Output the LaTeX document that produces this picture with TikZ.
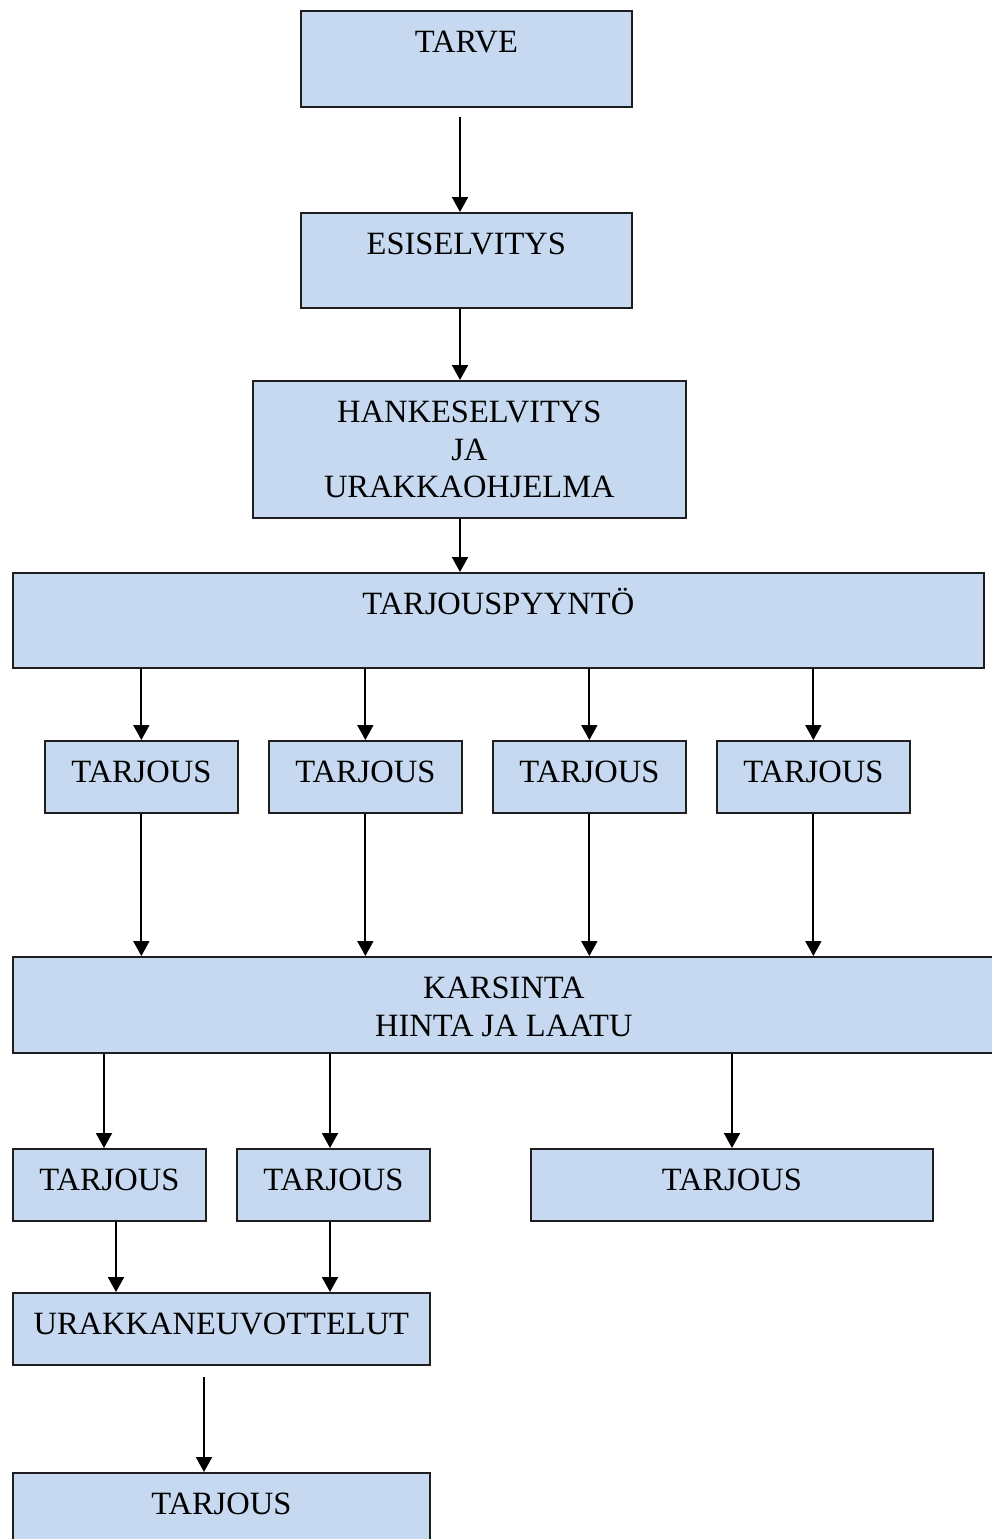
\documentclass[tikz,border=0pt]{standalone}
\usepackage{fontspec}
\setmainfont{Liberation Serif}
\usetikzlibrary{arrows.meta}
\definecolor{boxfill}{RGB}{198,217,240}
\definecolor{boxline}{RGB}{30,30,30}
\begin{document}
\begin{tikzpicture}[x=1pt,y=-1pt,
  box/.style={draw=boxline, fill=boxfill, line width=1.7pt, rectangle,
    anchor=north west, inner ysep=0pt, inner xsep=0pt, align=center,
    font=\fontsize{32.5}{37.5}\selectfont, text height=42pt},
  arr/.style={line width=2pt, -{Triangle[width=16pt,length=15pt]}}]
\useasboundingbox (0,0) rectangle (992,1539);
\clip (0,0) rectangle (992,1539);

% top chain (for multi-line boxes the text height runs to the last baseline)
\node[box, minimum width=331pt, text depth=54pt] (tarve) at (300,10) {TARVE};
\node[box, minimum width=331pt, text depth=53pt] (esi) at (300,212) {ESISELVITYS};
\node[box, minimum width=433pt, text height=117pt, text depth=20pt] (hanke) at (252,380) {HANKESELVITYS\\JA\\URAKKAOHJELMA};
\node[box, minimum width=971pt, text depth=53pt] (tp) at (12,572) {TARJOUSPYYNTÖ};

% first row of offers
\node[box, minimum width=193pt, text depth=30pt] (t1) at (44,740) {TARJOUS};
\node[box, minimum width=193pt, text depth=30pt] (t2) at (268,740) {TARJOUS};
\node[box, minimum width=193pt, text depth=30pt] (t3) at (492,740) {TARJOUS};
\node[box, minimum width=193pt, text depth=30pt] (t4) at (716,740) {TARJOUS};

% screening
\node[box, minimum width=982pt, text height=79.5pt, text depth=16.5pt] (kars) at (12,956) {KARSINTA\\HINTA JA LAATU};

% second row of offers
\node[box, minimum width=193pt, text depth=30pt] (r1) at (12,1148) {TARJOUS};
\node[box, minimum width=193pt, text depth=30pt] (r2) at (236,1148) {TARJOUS};
\node[box, minimum width=402pt, text depth=30pt] (r3) at (530,1148) {TARJOUS};

% negotiations and final offer
\node[box, minimum width=417pt, text depth=30pt] (neg) at (12,1292) {URAKKANEUVOTTELUT};
\node[box, minimum width=417pt, text depth=54pt] (fin) at (12,1472) {TARJOUS};

% connector columns
\coordinate (cx) at (460,0);
\coordinate (k1) at (104,0);
\coordinate (k2) at (330,0);
\coordinate (k3) at (732,0);
\coordinate (n1) at (116,0);
\coordinate (n2) at (330,0);
\coordinate (f1) at (204,0);

\draw[arr, shorten <=9pt] (tarve.south -| cx) -- (esi.north -| cx);
\draw[arr] (esi.south -| cx) -- (hanke.north -| cx);
\draw[arr] (hanke.south -| cx) -- (tp.north -| cx);

\foreach \t in {t1,t2,t3,t4}{
  \draw[arr] (tp.south -| \t.north) -- (\t.north);
  \draw[arr] (\t.south) -- (\t.south |- kars.north);
}

\draw[arr] (kars.south -| k1) -- (r1.north -| k1);
\draw[arr] (kars.south -| k2) -- (r2.north -| k2);
\draw[arr] (kars.south -| k3) -- (r3.north -| k3);

\draw[arr] (r1.south -| n1) -- (neg.north -| n1);
\draw[arr] (r2.south -| n2) -- (neg.north -| n2);

\draw[arr, shorten <=11pt] (neg.south -| f1) -- (fin.north -| f1);
\end{tikzpicture}
\end{document}
